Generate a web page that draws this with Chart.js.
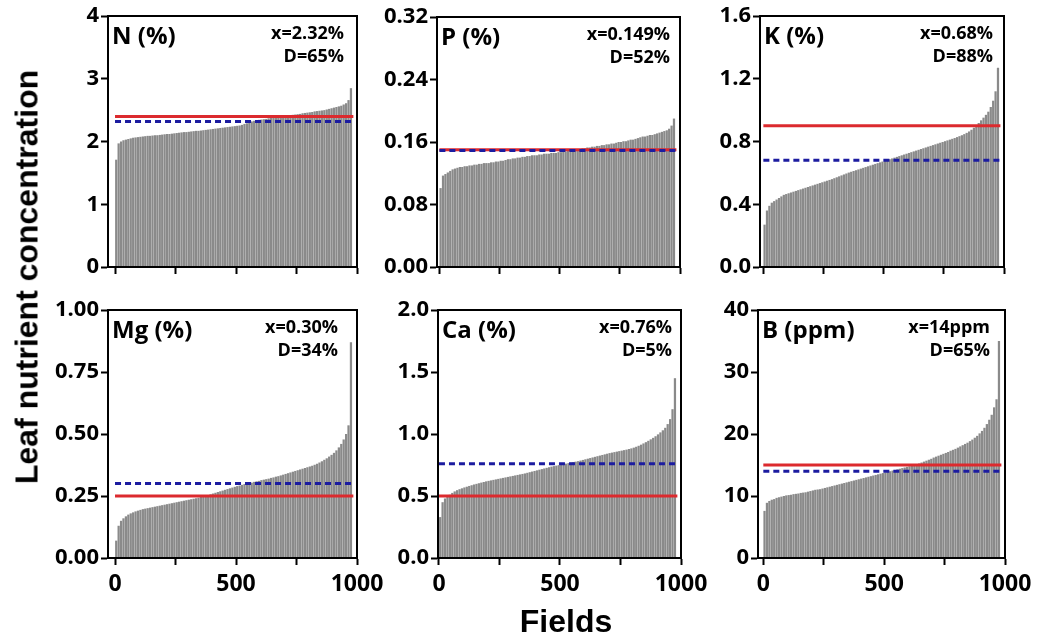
<!DOCTYPE html>
<html>
<head>
<meta charset="utf-8">
<title>Leaf nutrient concentration</title>
<script src="https://cdn.jsdelivr.net/npm/chart.js@4.4.1/dist/chart.umd.min.js"></script>
<style>
  html, body { margin: 0; padding: 0; background: #fff; }
  #wrap { position: relative; width: 1039px; height: 638px; overflow: hidden; }
  #wrap canvas { position: absolute; left: 0; top: 0; }
  .ytitle {
    position: absolute; left: 27px; top: 277px;
    transform: translate(-50%, -50%) rotate(-90deg);
    font: bold 32px "Liberation Sans", Arial, sans-serif;
    white-space: nowrap; color: #000;
  }
  .xtitle {
    position: absolute; left: 566px; top: 621px;
    transform: translate(-50%, -50%);
    font: bold 32px "Liberation Sans", Arial, sans-serif;
    white-space: nowrap; color: #000;
  }
</style>
</head>
<body>
<div id="wrap">
  <canvas id="c0" width="1039" height="638"></canvas>
  <canvas id="c1" width="1039" height="638"></canvas>
  <canvas id="c2" width="1039" height="638"></canvas>
  <canvas id="c3" width="1039" height="638"></canvas>
  <canvas id="c4" width="1039" height="638"></canvas>
  <canvas id="c5" width="1039" height="638"></canvas>
  <div class="ytitle">Leaf nutrient concentration</div>
  <div class="xtitle">Fields</div>
</div>
<script>
// fields sorted by concentration, one bar per 10 fields (centres 5, 15, ... 975)
const fieldPos = Array.from({ length: 98 }, (_, i) => i * 10 + 5);
const fieldTicks = [0, 250, 500, 750, 1000];
const fieldTickLabels = ['0', '', '500', '', '1000'];

// N (%)
const nValues = [1.71,1.97,2.00,2.02,2.03,2.04,2.05,2.06,2.065,2.07,
  2.075,2.08,2.085,2.09,2.09,2.095,2.10,2.10,2.105,2.11,
  2.115,2.12,2.12,2.125,2.13,2.135,2.14,2.145,2.15,2.15,
  2.155,2.16,2.165,2.17,2.17,2.175,2.18,2.185,2.19,2.195,
  2.20,2.205,2.21,2.215,2.22,2.225,2.23,2.235,2.24,2.245,
  2.25,2.255,2.265,2.28,2.29,2.305,2.32,2.33,2.34,2.345,
  2.35,2.355,2.36,2.37,2.375,2.38,2.39,2.395,2.40,2.405,
  2.41,2.415,2.42,2.425,2.43,2.435,2.44,2.45,2.455,2.46,
  2.465,2.47,2.48,2.485,2.49,2.495,2.50,2.51,2.52,2.53,
  2.54,2.55,2.56,2.57,2.59,2.61,2.66,2.85];
const nCritical = 2.4, nMean = 2.32;
const nTicks = [0, 1, 2, 3, 4];
const nTickLabels = ['0', '1', '2', '3', '4'];

// P (%)
const pValues = [0.101,0.117,0.119,0.121,0.123,0.125,0.126,0.127,0.128,0.128,
  0.129,0.129,0.130,0.130,0.131,0.131,0.132,0.132,0.133,0.133,
  0.133,0.134,0.134,0.135,0.135,0.136,0.136,0.137,0.138,0.138,
  0.139,0.139,0.140,0.140,0.141,0.141,0.142,0.142,0.143,0.143,
  0.143,0.144,0.144,0.145,0.145,0.145,0.146,0.146,0.146,0.147,
  0.147,0.148,0.148,0.149,0.149,0.150,0.150,0.151,0.151,0.152,
  0.152,0.153,0.153,0.154,0.154,0.155,0.155,0.156,0.156,0.157,
  0.157,0.158,0.158,0.159,0.160,0.160,0.161,0.161,0.162,0.163,
  0.163,0.164,0.165,0.166,0.167,0.167,0.168,0.169,0.169,0.170,
  0.171,0.172,0.173,0.174,0.175,0.177,0.181,0.190];
const pCritical = 0.15, pMean = 0.149;
const pTicks = [0, 0.08, 0.16, 0.24, 0.32];
const pTickLabels = ['0.00', '0.08', '0.16', '0.24', '0.32'];

// K (%)
const kValues = [0.27,0.36,0.39,0.41,0.42,0.43,0.44,0.45,0.46,0.465,
  0.47,0.475,0.48,0.485,0.49,0.495,0.50,0.505,0.51,0.515,
  0.52,0.525,0.53,0.535,0.54,0.545,0.55,0.555,0.56,0.566,
  0.572,0.578,0.584,0.59,0.596,0.602,0.607,0.612,0.617,0.622,
  0.627,0.632,0.637,0.642,0.647,0.652,0.657,0.662,0.667,0.672,
  0.677,0.682,0.687,0.692,0.697,0.702,0.707,0.712,0.717,0.722,
  0.727,0.732,0.737,0.742,0.747,0.752,0.757,0.762,0.767,0.772,
  0.777,0.782,0.787,0.792,0.797,0.802,0.807,0.812,0.817,0.822,
  0.828,0.834,0.840,0.847,0.855,0.864,0.875,0.888,0.902,0.918,
  0.935,0.952,0.97,0.99,1.02,1.06,1.12,1.27];
const kCritical = 0.9, kMean = 0.68;
const kTicks = [0, 0.4, 0.8, 1.2, 1.6];
const kTickLabels = ['0.0', '0.4', '0.8', '1.2', '1.6'];

// Mg (%)
const mgValues = [0.07,0.13,0.150,0.160,0.168,0.175,0.180,0.184,0.188,0.191,
  0.194,0.197,0.199,0.201,0.203,0.205,0.207,0.209,0.211,0.213,
  0.215,0.217,0.219,0.221,0.223,0.225,0.227,0.229,0.231,0.233,
  0.235,0.237,0.239,0.241,0.243,0.246,0.248,0.251,0.254,0.257,
  0.260,0.263,0.266,0.269,0.272,0.275,0.278,0.281,0.284,0.287,
  0.290,0.292,0.295,0.298,0.300,0.302,0.304,0.307,0.309,0.311,
  0.314,0.316,0.318,0.320,0.323,0.325,0.328,0.330,0.333,0.336,
  0.339,0.342,0.345,0.348,0.351,0.354,0.357,0.360,0.363,0.366,
  0.369,0.372,0.376,0.380,0.385,0.390,0.396,0.402,0.409,0.416,
  0.424,0.434,0.446,0.460,0.478,0.500,0.535,0.87];
const mgCritical = 0.25, mgMean = 0.30;
const mgTicks = [0, 0.25, 0.5, 0.75, 1];
const mgTickLabels = ['0.00', '0.25', '0.50', '0.75', '1.00'];

// Ca (%)
const caValues = [0.33,0.45,0.48,0.50,0.51,0.525,0.537,0.547,0.555,0.562,
  0.569,0.575,0.581,0.587,0.593,0.598,0.603,0.608,0.613,0.618,
  0.622,0.626,0.630,0.634,0.638,0.642,0.646,0.650,0.654,0.658,
  0.662,0.666,0.670,0.674,0.678,0.682,0.687,0.692,0.697,0.702,
  0.707,0.712,0.717,0.722,0.727,0.732,0.737,0.741,0.745,0.749,
  0.753,0.757,0.761,0.765,0.769,0.773,0.777,0.781,0.786,0.791,
  0.796,0.801,0.806,0.811,0.816,0.821,0.826,0.831,0.836,0.841,
  0.846,0.850,0.854,0.858,0.862,0.866,0.870,0.874,0.879,0.884,
  0.890,0.897,0.905,0.914,0.924,0.934,0.945,0.957,0.969,0.982,
  0.997,1.013,1.030,1.05,1.08,1.12,1.20,1.45];
const caCritical = 0.5, caMean = 0.76;
const caTicks = [0, 0.5, 1, 1.5, 2];
const caTickLabels = ['0.0', '0.5', '1.0', '1.5', '2.0'];

// B (ppm)
const bValues = [7.6,8.9,9.2,9.4,9.5,9.7,9.8,9.9,10.0,10.1,
  10.15,10.2,10.3,10.35,10.4,10.5,10.55,10.6,10.7,10.8,
  10.9,11.0,11.05,11.1,11.2,11.3,11.4,11.5,11.6,11.7,
  11.8,11.9,12.0,12.1,12.2,12.3,12.4,12.5,12.6,12.7,
  12.8,12.9,13.0,13.1,13.2,13.3,13.4,13.5,13.6,13.7,
  13.8,13.9,14.0,14.1,14.2,14.3,14.4,14.5,14.6,14.7,
  14.8,14.9,15.0,15.1,15.25,15.4,15.55,15.7,15.85,16.0,
  16.2,16.35,16.5,16.65,16.8,16.95,17.1,17.3,17.45,17.6,
  17.8,18.0,18.2,18.4,18.6,18.85,19.1,19.4,19.7,20.1,
  20.5,21.0,21.6,22.3,23.1,24.3,25.6,35.0];
const bCritical = 15, bMean = 14;
const bTicks = [0, 10, 20, 30, 40];
const bTickLabels = ['0', '10', '20', '30', '40'];

Chart.defaults.font.family = '"Open Sans", "DejaVu Sans", sans-serif';
Chart.defaults.color = '#000';

// panel boxes (plot frame in page pixels)
const panels = [
  { id: 'c0', name: 'N (%)',   meanText: 'x=2.32%',  dText: 'D=65%', values: nValues,  crit: nCritical,  mean: nMean,  ticks: nTicks,  tickLabels: nTickLabels,  box: [108, 16, 357, 267],  xMin: -29, rp: 13, showX: false },
  { id: 'c1', name: 'P (%)',   meanText: 'x=0.149%', dText: 'D=52%', values: pValues,  crit: pCritical,  mean: pMean,  ticks: pTicks,  tickLabels: pTickLabels,  box: [437, 17, 680, 267],  xMin: -10, rp: 10, showX: false },
  { id: 'c2', name: 'K (%)',   meanText: 'x=0.68%',  dText: 'D=88%', values: kValues,  crit: kCritical,  mean: kMean,  ticks: kTicks,  tickLabels: kTickLabels,  box: [760, 16, 1004, 267], xMin: -14, rp: 11, showX: false },
  { id: 'c3', name: 'Mg (%)',  meanText: 'x=0.30%',  dText: 'D=34%', values: mgValues, crit: mgCritical, mean: mgMean, ticks: mgTicks, tickLabels: mgTickLabels, box: [108, 310, 357, 558], xMin: -29, rp: 19, showX: true },
  { id: 'c4', name: 'Ca (%)',  meanText: 'x=0.76%',  dText: 'D=5%',  values: caValues, crit: caCritical, mean: caMean, ticks: caTicks, tickLabels: caTickLabels, box: [438, 310, 681, 558], xMin: -4,  rp: 9,  showX: true },
  { id: 'c5', name: 'B (ppm)', meanText: 'x=14ppm',  dText: 'D=65%', values: bValues,  crit: bCritical,  mean: bMean,  ticks: bTicks,  tickLabels: bTickLabels,  box: [758, 310, 1005, 558], xMin: -22, rp: 15, showX: true }
];

// closes the box on top and right
const framePlugin = {
  id: 'frame',
  afterDatasetsDraw(chart) {
    const a = chart.chartArea, ctx = chart.ctx;
    ctx.save();
    ctx.strokeStyle = '#000';
    ctx.lineWidth = 2;
    ctx.strokeRect(a.left, a.top, a.right - a.left, a.bottom - a.top);
    ctx.restore();
  }
};

// panel name + mean / deficiency text
const labelPlugin = {
  id: 'panelLabels',
  afterDraw(chart, args, opts) {
    const a = chart.chartArea, ctx = chart.ctx;
    ctx.save();
    ctx.fillStyle = '#000';
    ctx.textBaseline = 'alphabetic';
    ctx.textAlign = 'left';
    ctx.font = 'bold 24px "Open Sans", sans-serif';
    ctx.fillText(opts.name, a.left + 4, a.top + 28);
    ctx.textAlign = 'right';
    ctx.font = 'bold 18px "Open Sans", sans-serif';
    ctx.fillText(opts.meanText, a.right - opts.rp, a.top + 23);
    ctx.fillText(opts.dText, a.right - opts.rp, a.top + 46);
    ctx.restore();
  }
};

const Y_W = 70, X_H = 45;

panels.forEach(p => {
  const [l, t, r, b] = p.box;
  new Chart(document.getElementById(p.id), {
    type: 'bar',
    data: {
      datasets: [
        {
          type: 'line', data: [{ x: 0, y: p.mean }, { x: 985, y: p.mean }],
          borderColor: '#1c1ca0', borderWidth: 3, borderDash: [6, 4],
          pointRadius: 0, order: 0
        },
        {
          type: 'line', data: [{ x: 0, y: p.crit }, { x: 985, y: p.crit }],
          borderColor: '#dc2a2e', borderWidth: 3,
          pointRadius: 0, order: 1
        },
        {
          type: 'bar', data: p.values.map((v, i) => ({ x: fieldPos[i], y: v })),
          backgroundColor: '#8a8a8a', borderWidth: 0,
          barPercentage: 0.93, categoryPercentage: 1, order: 2
        }
      ]
    },
    options: {
      responsive: false,
      animation: false,
      devicePixelRatio: 1,
      layout: { padding: { left: l - Y_W, top: t, right: 1039 - r, bottom: 638 - b - X_H } },
      plugins: {
        legend: { display: false },
        tooltip: { enabled: false },
        panelLabels: { name: p.name, meanText: p.meanText, dText: p.dText, rp: p.rp }
      },
      scales: {
        x: {
          type: 'linear', min: p.xMin, max: 1000, offset: false,
          afterFit: s => { s.height = X_H; },
          afterBuildTicks: s => { s.ticks = fieldTicks.map(v => ({ value: v })); },
          ticks: {
            callback: (v, i) => p.showX ? fieldTickLabels[i] : '',
            font: { size: 23, weight: 'bold' }, color: '#000',
            padding: 6, maxRotation: 0, autoSkip: false
          },
          grid: { offset: false, drawOnChartArea: false, tickLength: 7, tickColor: '#000', tickWidth: 2 },
          border: { color: '#000', width: 2 }
        },
        y: {
          min: 0, max: p.ticks[p.ticks.length - 1],
          afterFit: s => { s.width = Y_W; },
          afterBuildTicks: s => { s.ticks = p.ticks.map(v => ({ value: v })); },
          ticks: {
            callback: (v, i) => p.tickLabels[i],
            font: { size: 22, weight: 'bold' }, color: '#000',
            padding: 2, autoSkip: false
          },
          grid: { drawOnChartArea: false, tickLength: 7, tickColor: '#000', tickWidth: 2 },
          border: { color: '#000', width: 2 }
        }
      }
    },
    plugins: [framePlugin, labelPlugin]
  });
});
</script>
</body>
</html>
